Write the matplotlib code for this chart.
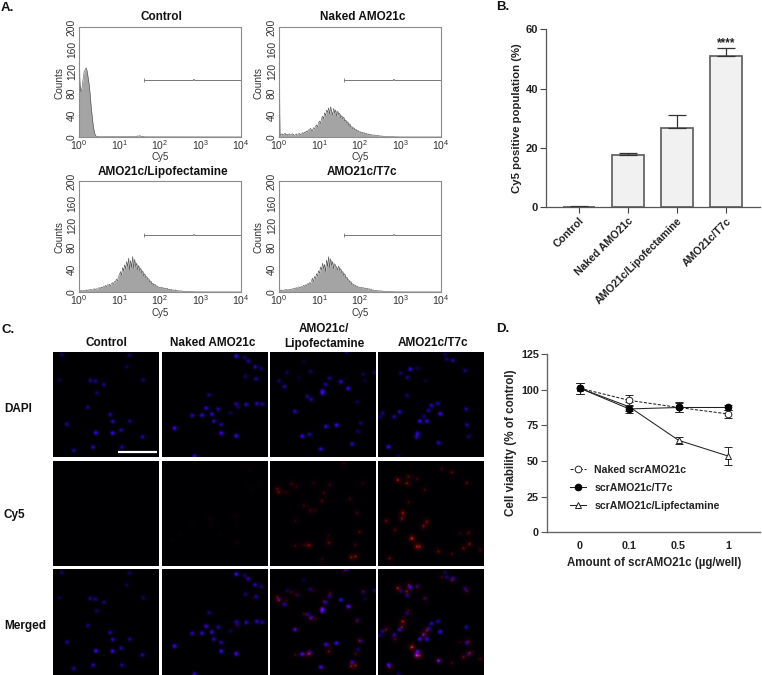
import numpy as np
import matplotlib
matplotlib.use("Agg")
import matplotlib.pyplot as plt
from matplotlib.lines import Line2D

plt.rcParams['font.family'] = ['Liberation Sans', 'DejaVu Sans']
plt.rcParams['mathtext.default'] = 'regular'

W, H = 762, 675
fig = plt.figure(figsize=(W/100, H/100), dpi=100, facecolor='white')

def axpx(l, t, r, b, **kw):
    return fig.add_axes([l/W, 1-b/H, (r-l)/W, (b-t)/H], **kw)

def txt(x, y, s, **kw):
    kw.setdefault('ha', 'center'); kw.setdefault('va', 'center')
    fig.text(x/W, 1-y/H, s, **kw)

# ---------- Panel A data ----------
flow_titles = ['Control', 'Naked AMO21c', 'AMO21c/Lipofectamine', 'AMO21c/T7c']
flow_yticks = [0, 40, 80, 120, 160, 200]
flow_xticks = [1, 10, 100, 1000, 10000]
flow_xticklabels = ['$10^{0}$', '$10^{1}$', '$10^{2}$', '$10^{3}$', '$10^{4}$']
gate_lo, gate_mid, gate_hi, gate_y = 41, 690, 10000, 103

counts_control = [146, 96, 82, 90, 105, 118, 122, 126, 120, 108, 96, 78, 55, 38, 22, 10, 4, 1.5, 1, .5] \
    + [.4] * 30 + [.6, .8, .6, 1, .8, 1.2, 1.5, 1, 2, 1.5, 2.5, 1.5, 1.2, 1.5, .8] + [.3] * 20 + [.1] * 76
counts_naked = [160, 5, 3, 6, 4, 5, 7, 4, 5, 3, 6, 4, 4, 6, 5, 3, 4, 6, 3, 5,
                7, 5, 4, 8, 6, 9, 7, 11, 9, 13, 12, 16, 13, 11, 17, 15, 19, 22, 18, 26,
                29, 25, 34, 38, 33, 44, 39, 49, 45, 53, 42, 55, 47, 40, 52, 44, 49, 38, 47, 41,
                43, 35, 39, 33, 36, 29, 31, 26, 28, 21, 24, 18, 19, 15, 17, 13, 14, 11, 12, 9,
                10, 8, 9, 7, 8, 6, 7, 5, 6, 4, 5, 4, 4, 3, 4, 3, 3, 2, 3, 2,
                2, 1.5, 2, 1, 1.5, 1, 1, .8, 1, .6, .8, .5, .5, .4, .4, .3, .3, .2, .2, .2] + [.1] * 41
counts_lipo = [5, 2, 3, 1, 3, 2, 3, 4, 2, 4, 3, 5, 4, 3, 5, 6, 4, 6, 5, 7,
               8, 6, 9, 7, 10, 8, 12, 9, 13, 12, 14, 11, 15, 17, 14, 19, 18, 23, 20, 28,
               32, 37, 30, 44, 38, 49, 42, 55, 46, 61, 40, 57, 44, 64, 43, 59, 46, 52, 40, 48,
               38, 43, 34, 38, 29, 33, 26, 28, 23, 24, 18, 20, 15, 16, 12, 14, 11, 11, 9, 9,
               8, 9, 7, 8, 6, 7, 6, 7, 5, 5, 4, 5, 3, 4, 3, 4, 2, 3, 2, 2,
               2, 2, 1.5, 1.5, 1, 1, 1, .8, .8, .6, .6, .5, .4, .4, .3, .3, .2, .2, .2, .2] + [.1] * 41
counts_t7 = [6, 2, 4, 2, 3, 4, 3, 5, 4, 3, 5, 5, 4, 6, 5, 7, 6, 8, 6, 9,
             9, 7, 10, 8, 12, 10, 13, 11, 15, 13, 17, 14, 20, 25, 19, 28, 24, 33, 29, 38,
             34, 45, 40, 52, 42, 50, 37, 58, 46, 64, 44, 60, 48, 55, 42, 51, 47, 45, 40, 47,
             39, 42, 35, 37, 30, 33, 26, 27, 22, 22, 18, 19, 14, 15, 12, 13, 10, 11, 9, 9,
             8, 9, 7, 8, 7, 7, 6, 7, 5, 6, 5, 5, 3, 4, 3, 3, 2, 3, 2, 2,
             2, 2, 1.5, 1.5, 1, 1, 1, .8, .8, .6, .6, .5, .4, .4, .3, .3, .2, .2, .2, .2] + [.1] * 41
flow_counts = [counts_control, counts_naked, counts_lipo, counts_t7]
channels = 10 ** np.linspace(0, 4, 161)

flow_boxes = [(79, 27, 241, 137), (279, 27, 441, 137), (79, 181, 241, 292), (279, 181, 441, 292)]
flow_title_pos = [(161, 17), (363, 17), (163, 172), (362, 172)]

for i, box in enumerate(flow_boxes):
    ax = axpx(*box)
    ax.fill_between(channels, flow_counts[i], color='#a4a4a4', lw=0)
    ax.plot(channels, flow_counts[i], color='#444444', lw=0.35)
    ax.set_xscale('log'); ax.set_xlim(1, 10000); ax.set_ylim(0, 200)
    ax.set_xticks(flow_xticks); ax.set_xticklabels(flow_xticklabels, fontsize=7.5, color='#333333')
    ax.minorticks_off()
    ax.set_yticks(flow_yticks)
    ax.set_yticklabels(flow_yticks, fontsize=7.4, rotation=90, va='center', color='#333333')
    ax.tick_params(axis='y', length=0.5, width=0.5, color='#777777', pad=1)
    ax.tick_params(axis='x', length=0, pad=1)
    for s in ax.spines.values():
        s.set_color('#8c8c8c'); s.set_linewidth(0.8)
    ax.plot([gate_lo, gate_hi], [gate_y, gate_y], color='#777777', lw=0.7, clip_on=False)
    ax.plot([gate_lo, gate_hi], [gate_y]*2, '|', color='#777777', ms=2.5, mew=0.6, clip_on=False)
    ax.plot([gate_mid], [gate_y], 's', color='#999999', ms=1.6, mew=0, clip_on=False)
    txt(box[0] + 81, box[3] + 20.5, 'Cy5', fontsize=7, color='#333333')
    txt(box[0] - 20, (box[1] + box[3]) / 2 + 1, 'Counts', fontsize=7.2, rotation=90, color='#333333')
    txt(*flow_title_pos[i], flow_titles[i], fontsize=8.5, fontweight='bold', color='#111111')

# ---------- Panel B data ----------
bar_labels = ['Control', 'Naked AMO21c', 'AMO21c/Lipofectamine', 'AMO21c/T7c']
bar_values = [0.3, 17.6, 26.8, 51.0]
bar_errors = [0.1, 0.6, 4.2, 2.6]

axb = axpx(546.3, 29.3, 760, 207.5)
xb = np.arange(len(bar_values))
axb.bar(xb, bar_values, width=0.65, color='#f1f1f1', edgecolor='#606060', linewidth=1.25)
axb.errorbar(xb, bar_values, yerr=[np.zeros(4), bar_errors], fmt='none', ecolor='#333333',
             elinewidth=0.9, capsize=6.3, capthick=0.9)
axb.set_xlim(-0.673, 3.69); axb.set_ylim(0, 60)
axb.set_yticks([0, 20, 40, 60])
axb.set_xticks(xb)
axb.set_xticklabels(bar_labels, rotation=45, ha='right', rotation_mode='anchor',
                    fontsize=7.7, fontweight='bold', color='#222222')
for t in axb.get_yticklabels():
    t.set_fontsize(8); t.set_fontweight('bold'); t.set_color('#222222')
axb.tick_params(length=4, width=0.8, color='#444444', pad=2)
axb.spines[['top', 'right']].set_visible(False)
axb.spines[['left', 'bottom']].set_color('#555555')
axb.spines[['left', 'bottom']].set_linewidth(0.9)
axb.text(3, 55.3, '****', ha='center', va='center', fontsize=8.5, fontweight='bold', color='#222222')
txt(516.7, 118, 'Cy5 positive population (%)', rotation=90, fontsize=8.2, fontweight='bold', color='#222222')

c_cols = [(53.3, 159), (162, 267), (270, 375.7), (378, 484)]
c_rows = [(352, 457), (461, 566), (569, 675)]
c_origin_x = [160, 486, 30, 355]
c_origin_y = 97
c_red_origin_y = 32

dapi_control = [(185,107,.5),(388,108,.5),(380,143,.4),(178,182,.4),(270,184,.6),(286,186,.6),(311,196,.6),
                (429,182,.5),(290,221,.5),(263,265,.6),(330,286,.7),(338,307,.8),(389,306,.6),(200,315,.7),
                (287,341,1),(337,342,1),(363,333,.7),(427,353,.7),(279,384,.8),(365,384,.7),(221,394,.7)]
dapi_naked = [(707,111,1),(732,115,.5),(743,126,.7),(764,143,.8),(783,149,.5),(735,172,.5),(767,179,.7),
              (626,227,.6),(617,267,.9),(653,270,.7),(575,289,.8),(604,288,.9),(634,285,.9),(640,306,.8),
              (662,316,.7),(690,282,.4),(707,254,.7),(713,265,.4),(737,256,.8),(769,253,.8),(785,255,.7),
              (522,327,1),(662,342,1),(707,350,1),(582,411,.9)]
dapi_lipo = [(130,128,.3),(150,157,.5),(80,160,.4),(55,186,.5),(72,202,.7),(115,175,.25),(207,177,.6),
             (195,196,.7),(241,188,.9),(263,208,1),(186,215,.9),(185,223,.8),(140,232,.6),(152,241,.7),
             (308,165,.4),(342,160,.5),(313,185,.3),(290,248,.4),(103,277,.8),(196,322,.9),(228,318,1),
             (300,312,.5),(293,337,.5),(125,351,1),(147,346,.7),(275,375,.8),(181,390,.9),(258,97,.7)]
dapi_t7 = [(555,105,.4),(560,120,.5),(578,124,.7),(615,154,.6),(450,150,1),(422,162,.5),(473,147,.4),
           (442,175,.6),(495,185,.3),(440,229,.5),(367,282,.6),(358,294,.5),(418,278,.8),(402,293,.7),
           (533,253,.7),(514,259,.8),(505,274,.7),(540,284,1),(491,291,.5),(479,306,1),(500,306,.9),
           (618,270,.7),(620,317,.7),(625,352,.5),(472,343,.9),(469,354,.8),(385,383,1),(535,371,.8),(415,412,.5)]
dapi_cells = [dapi_control, dapi_naked, dapi_lipo, dapi_t7]

cy5_control = []
cy5_naked = [(745,58,.08),(757,118,.07),(780,100,.05),(738,100,.05),(710,280,.12),(708,200,.08),(625,205,.07),
             (632,215,.06),(578,222,.05),(540,250,.05),(515,268,.05),(660,250,.04),(710,225,.05)]
cy5_lipo = [(55,125,.45),(50,115,.4),(93,100,.3),(78,125,.25),(108,108,.25),(160,97,.2),(208,103,.3),
            (190,127,.3),(185,152,.35),(130,165,.25),(150,180,.3),(165,180,.25),(268,145,.3),(290,188,.3),
            (105,212,.25),(297,245,.4),(205,257,.2),(205,278,.5),(105,288,.3),(145,286,.7),(285,285,.3),
            (272,322,.6),(285,320,.6),(185,328,.2),(308,97,.2),(250,38,.25),(130,285,.2)]
cy5_t7 = [(413,88,.8),(440,98,.6),(445,78,.4),(470,85,.3),(493,118,.3),(545,55,.3),(575,65,.4),(620,97,.4),
          (428,188,.8),(425,205,.6),(378,212,.5),(405,240,.4),(445,155,.3),(500,215,.6),(490,228,.6),
          (455,265,1.2),(470,290,.8),(478,290,.7),(535,305,.5),(610,295,.5),(628,282,.6),(625,248,.4),
          (388,325,.5),(575,312,.3),(600,250,.2),(660,300,.3)]
cy5_spots = [cy5_control, cy5_naked, cy5_lipo, cy5_t7]

c_col_labels = ['Control', 'Naked AMO21c', 'AMO21c/\nLipofectamine', 'AMO21c/T7c']
c_col_x = [106.7, 213, 324, 433]
c_row_labels = ['DAPI', 'Cy5', 'Merged']
c_row_y = [409, 515, 626]

def blobs(points, ox, oy, size, sigma, sigma2=None, amp2=0.0):
    yy, xx = np.mgrid[0:size, 0:size]
    out = np.zeros((size, size))
    for px, py, b in points:
        x0, y0 = (px - ox) / 3, (py - oy) / 3
        r2 = (xx - x0) ** 2 + (yy - y0) ** 2
        out += b * np.exp(-r2 / (2 * sigma ** 2))
        if sigma2:
            out += amp2 * b * np.exp(-r2 / (2 * sigma2 ** 2))
    return out

n = 106
for c, (l, r) in enumerate(c_cols):
    blue = np.clip(blobs(dapi_cells[c], c_origin_x[c], c_origin_y, n, 1.6), 0, 1) ** 1.25
    red = np.clip(blobs(cy5_spots[c], c_origin_x[c], c_red_origin_y, n, 0.7, 2.6, 0.35) * 0.7, 0, 1)
    for k, (t, b) in enumerate(c_rows):
        img = np.zeros((n, n, 3))
        img[..., 2] = 0.015
        if k in (0, 2):
            img[..., 0] += blue * 0.22
            img[..., 2] += blue * 0.95
        if k in (1, 2):
            img[..., 0] += red
            img[..., 1] += red * 0.08
            img[..., 2] += red * 0.05
        ax = axpx(l, t, r, b)
        ax.imshow(np.clip(img, 0, 1), interpolation='bilinear', aspect='auto', extent=(0, 1, 1, 0))
        ax.axis('off')
        if c == 0 and k == 0:
            ax.plot([0.61, 0.98], [0.957, 0.957], color='white', lw=1.6, solid_capstyle='butt')
            ax.set_xlim(0, 1); ax.set_ylim(1, 0)
    txt(c_col_x[c], 336.5 if c == 2 else 343, c_col_labels[c], fontsize=8.5, fontweight='bold',
        color='#111111', linespacing=1.25)
for lab, y in zip(c_row_labels, c_row_y):
    txt(4, y, lab, ha='left', fontsize=8.5, fontweight='bold', color='#111111')

# ---------- Panel D data ----------
dose_labels = ['0', '0.1', '0.5', '1']
naked_v = [101, 92.5, 87.5, 83]
naked_e = [4, 4, 3.5, 3]
t7_v = [101, 86.5, 87.5, 87.5]
t7_e = [4, 3, 3, 1.5]
lipo_v = [101, 88, 64.5, 53.5]
lipo_e = [4, 3, 2.5, 6]
legend_labels = ['Naked scrAMO21c', 'scrAMO21c/T7c', 'scrAMO21c/Lipfectamine']

axd = axpx(547.3, 354, 760, 532.3)
xd = np.arange(4)
dc = '#222222'
ms = 4.8
axd.errorbar(xd, naked_v, yerr=naked_e, fmt='o--', color=dc, mfc='white', mec=dc, ms=ms, mew=0.7,
             lw=0.75, elinewidth=0.7, capsize=3, capthick=0.7, dashes=(3, 1.5))
axd.errorbar(xd, lipo_v, yerr=lipo_e, fmt='^-', color=dc, mfc='white', mec=dc, ms=ms, mew=0.7,
             lw=0.75, elinewidth=0.7, capsize=3, capthick=0.7)
axd.errorbar(xd, t7_v, yerr=t7_e, fmt='o-', color=dc, mfc='black', mec='black', ms=ms, mew=0.7,
             lw=0.75, elinewidth=0.7, capsize=3, capthick=0.7)
axd.set_xlim(-0.66, 3.65); axd.set_ylim(0, 125)
axd.set_xticks(xd); axd.set_xticklabels(dose_labels)
axd.set_yticks([0, 25, 50, 75, 100, 125])
for t in axd.get_xticklabels() + axd.get_yticklabels():
    t.set_fontsize(7.8); t.set_fontweight('bold'); t.set_color('#222222')
axd.tick_params(axis='y', length=4, width=0.8, color='#555555', pad=2)
axd.tick_params(axis='x', length=0, pad=6)
axd.spines[['top', 'right']].set_visible(False)
axd.spines[['left', 'bottom']].set_color('#666666')
axd.spines[['left', 'bottom']].set_linewidth(1.0)
handles = [Line2D([], [], marker='o', ls='--', color=dc, mfc='white', mec=dc, ms=ms, mew=0.7, lw=0.75, dashes=(3, 1.5)),
           Line2D([], [], marker='o', ls='-', color=dc, mfc='black', mec='black', ms=ms, mew=0.7, lw=0.75),
           Line2D([], [], marker='^', ls='-', color=dc, mfc='white', mec=dc, ms=ms, mew=0.7, lw=0.75)]
axd.legend(handles, legend_labels, frameon=False, loc='lower left',
           bbox_to_anchor=(0.107, 0.12), prop={'weight': 'bold', 'size': 7.6}, labelspacing=0.75,
           handlelength=1.5, handletextpad=0.78, labelcolor='#222222', borderpad=0, borderaxespad=0)
txt(654, 563, 'Amount of scrAMO21c (µg/well)', fontsize=8.3, fontweight='bold', color='#222222')
txt(510.7, 443, 'Cell viability (% of control)', rotation=90, fontsize=8.4, fontweight='bold', color='#222222')

# ---------- Panel letters ----------
for x, y, s in [(1, 8, 'A.'), (496, 7, 'B.'), (1, 330, 'C.'), (496, 329, 'D.')]:
    txt(x, y, s, ha='left', fontsize=9.5, fontweight='bold', color='#111111')

fig.savefig('out.png', dpi=100, facecolor='white')
